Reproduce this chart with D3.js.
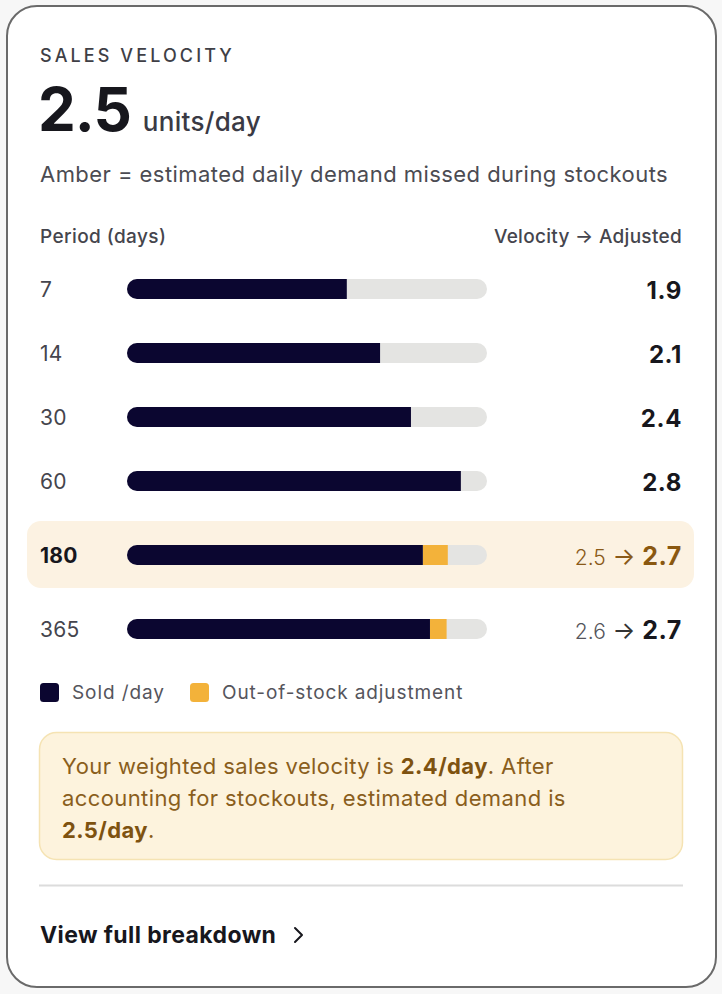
<!DOCTYPE html>
<html>
<head>
<meta charset="utf-8">
<script src="https://cdn.jsdelivr.net/npm/d3@7"></script>
<style>
  html, body { margin: 0; padding: 0; background: #f7f7f7; }
  svg { display: block; font-family: Inter, "Noto Sans", sans-serif; }
</style>
</head>
<body>
<svg id="chart" width="722" height="994"></svg>
<script>
// ---- data ----
const periods = ["7", "14", "30", "60", "180", "365"];
const velocity = [1.85, 2.13, 2.39, 2.81, 2.49, 2.55];      // sold per day (bar)
const adjusted = [null, null, null, null, 2.70, 2.69];      // incl. out-of-stock adjustment
const velocityLabels = ["1.9", "2.1", "2.4", "2.8", "2.5", "2.6"];
const adjustedLabels = [null, null, null, null, "2.7", "2.7"];
const highlighted = "180";
const scaleMax = [0, 3.03];
const legendLabels = ["Sold /day", "Out-of-stock adjustment"];
const headline = "2.5";
const weighted = "2.4/day";
const demand = "2.5/day";

const C = {
  navy: "#0b0630", track: "#e4e4e2", amber: "#f3b23a",
  hi: "#fcf2e2", text: "#45454d", dark: "#17171d", brown: "#8a5a18"
};

const svg = d3.select("#chart");

// card
svg.append("rect").attr("x", 7).attr("y", 6).attr("width", 709).attr("height", 981)
  .attr("rx", 30).attr("fill", "#fff").attr("stroke", "#6a6a6a").attr("stroke-width", 2);

// header
svg.append("text").attr("x", 40).attr("y", 62).text("SALES VELOCITY")
  .attr("font-size", 18).attr("font-weight", 500).attr("letter-spacing", 3.1).attr("fill", "#3f3f46");
const big = svg.append("text").attr("x", 38).attr("y", 131).attr("fill", C.dark);
big.append("tspan").text(headline).attr("font-size", 60).attr("font-weight", 700).attr("letter-spacing", -1);
big.append("tspan").text("units/day").attr("dx", 12).attr("font-size", 26).attr("font-weight", 500).attr("fill", "#3a3a44").attr("letter-spacing", 0.3);
svg.append("text").attr("x", 40).attr("y", 182).text("Amber = estimated daily demand missed during stockouts")
  .attr("font-size", 22).attr("fill", "#4b4b52").attr("letter-spacing", 0.45);

svg.append("text").attr("x", 40).attr("y", 243).text("Period (days)")
  .attr("font-size", 19).attr("font-weight", 500).attr("fill", "#45454d").attr("letter-spacing", 0.4);
svg.append("text").attr("x", 682).attr("y", 243).attr("text-anchor", "end").text("Velocity → Adjusted")
  .attr("font-size", 19).attr("font-weight", 500).attr("fill", "#45454d").attr("letter-spacing", 0.3);

// scales
const x = d3.scaleLinear().domain(scaleMax).range([127, 487]);
const yPoint = d3.scalePoint().domain(periods).range([289, 289 + 64 * (periods.length - 1)]);
const hiIdx = periods.indexOf(highlighted);
const extra = 10;
const yc = (p, i) => yPoint(p) + (i >= hiIdx ? extra : 0) + (i > hiIdx ? extra : 0);
const bh = 20;

const rows = periods.map((p, i) => ({ p, i, v: velocity[i], a: adjusted[i], vl: velocityLabels[i], al: adjustedLabels[i] }));

// highlight background
rows.filter(d => d.p === highlighted).forEach(d => {
  svg.append("rect").attr("x", 27).attr("y", yc(d.p, d.i) - 34).attr("width", 667).attr("height", 67)
    .attr("rx", 14).attr("fill", C.hi);
});

const defs = svg.append("defs");
rows.forEach(d => {
  defs.append("clipPath").attr("id", "clip" + d.i).append("rect")
    .attr("x", x(0)).attr("y", yc(d.p, d.i) - bh / 2).attr("width", x(scaleMax[1]) - x(0)).attr("height", bh).attr("rx", bh / 2);
});

const g = svg.append("g");
const row = g.selectAll("g.row").data(rows).join("g").attr("class", "row");
row.append("rect").attr("x", x(0)).attr("y", d => yc(d.p, d.i) - bh / 2)
  .attr("width", x(scaleMax[1]) - x(0)).attr("height", bh).attr("rx", bh / 2).attr("fill", C.track);
row.filter(d => d.a != null).append("rect").attr("clip-path", d => `url(#clip${d.i})`)
  .attr("x", d => x(d.v)).attr("y", d => yc(d.p, d.i) - bh / 2)
  .attr("width", d => x(d.a) - x(d.v)).attr("height", bh).attr("fill", C.amber);
row.append("rect").attr("clip-path", d => `url(#clip${d.i})`)
  .attr("x", x(0)).attr("y", d => yc(d.p, d.i) - bh / 2)
  .attr("width", d => x(d.v) - x(0)).attr("height", bh).attr("fill", C.navy);

row.append("text").attr("x", 40).attr("y", d => yc(d.p, d.i) + 8).text(d => d.p)
  .attr("font-size", 21).attr("font-weight", d => d.p === highlighted ? 700 : 400)
  .attr("fill", d => d.p === highlighted ? "#17171d" : "#45454d").attr("letter-spacing", 0.3);

const val = row.append("text").attr("x", 682).attr("y", d => yc(d.p, d.i) + 10).attr("text-anchor", "end");
val.each(function (d) {
  const t = d3.select(this);
  const isHi = d.p === highlighted;
  if (d.al == null) {
    t.append("tspan").text(d.vl).attr("font-size", 24).attr("font-weight", 700).attr("fill", C.dark).attr("letter-spacing", 0.6);
  } else {
    const col = isHi ? C.brown : "#55555c";
    t.append("tspan").text(d.vl).attr("font-size", 21).attr("font-weight", 300).attr("fill", col);
    t.append("tspan").text(" → ").attr("font-size", 24).attr("font-weight", 400).attr("fill", isHi ? C.brown : "#333");
    t.append("tspan").text(d.al).attr("font-size", 25).attr("font-weight", 700).attr("fill", isHi ? "#8a5810" : C.dark).attr("letter-spacing", 0.6);
  }
});

// legend
const legend = svg.append("g").attr("transform", "translate(40,683)");
const lg = legend.selectAll("g").data(legendLabels).join("g")
  .attr("transform", (d, i) => `translate(${i === 0 ? 0 : 150},0)`);
lg.append("rect").attr("width", 19).attr("height", 19).attr("rx", 3.5).attr("fill", (d, i) => i === 0 ? C.navy : C.amber);
lg.append("text").attr("x", 32).attr("y", 16).text(d => d).attr("font-size", 19).attr("fill", "#55555c").attr("letter-spacing", 0.9);

// callout
svg.append("rect").attr("x", 39.5).attr("y", 732.5).attr("width", 643).attr("height", 127).attr("rx", 17)
  .attr("fill", "#fdf3dd").attr("stroke", "#f5e3b3").attr("stroke-width", 1.5);
const lines = [
  [["Your weighted sales velocity is ", 400], [weighted, 700], [". After", 400]],
  [["accounting for stockouts, estimated demand is", 400]],
  [[demand, 700], [".", 400]]
];
lines.forEach((ln, li) => {
  const t = svg.append("text").attr("x", 62).attr("y", 774 + li * 32).attr("font-size", 22)
    .attr("letter-spacing", 0.4).attr("fill", "#8a5e1c");
  ln.forEach(([s, w]) => t.append("tspan").text(s).attr("font-weight", w).attr("fill", w === 700 ? "#7e5210" : "#8a5e1c"));
});

// divider
svg.append("line").attr("x1", 39).attr("x2", 683).attr("y1", 885.5).attr("y2", 885.5)
  .attr("stroke", "#dcdcdc").attr("stroke-width", 2);

// footer link
svg.append("text").attr("x", 40).attr("y", 943).text("View full breakdown")
  .attr("font-size", 23).attr("font-weight", 700).attr("letter-spacing", 0.4).attr("fill", C.dark);
svg.append("path").attr("d", "M295,928 L302,935 L295,942").attr("fill", "none")
  .attr("stroke", C.dark).attr("stroke-width", 2).attr("stroke-linecap", "round").attr("stroke-linejoin", "round");
</script>
</body>
</html>
